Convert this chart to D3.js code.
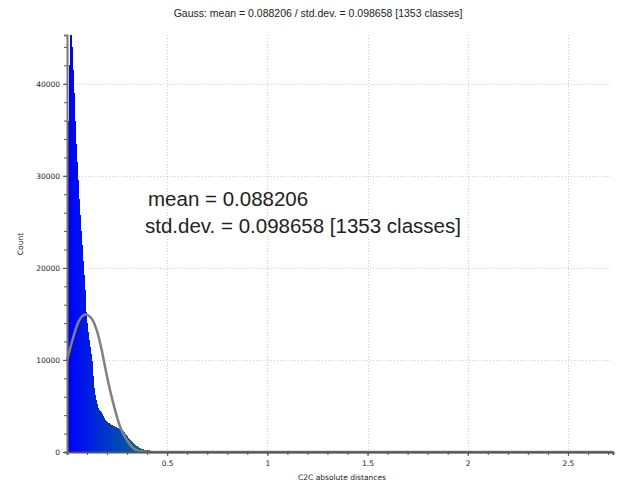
<!DOCTYPE html>
<html>
<head>
<meta charset="utf-8">
<script src="https://cdn.jsdelivr.net/npm/d3@7"></script>
<style>
  body { margin: 0; background: #fff; }
  svg { display: block; }
</style>
</head>
<body>
<div id="chart"></div>
<script>
'use strict';

// histogram: one count per class, classes start at 0 and are binWidth wide
var binWidth = 0.005;
var counts = [
  28000, 36000, 42000, 45300, 44000, 41500, 39000, 36000, 33500, 31500,
  29500, 27500, 25800, 24000, 22500, 20800, 19200, 17600, 15200, 14000,
  13000, 12200, 11400, 10600, 9900, 8300, 7000, 6200, 5700, 5200,
  4800, 4550, 4400, 4300, 4100, 3900, 3700, 3500, 3400, 3300,
  3200, 3100, 3000, 2950, 2900, 2850, 2800, 2750, 2700, 2650,
  2600, 2550, 2500, 2450, 2400, 2300, 2150, 2000, 1850, 1700,
  1550, 1400, 1300, 1200, 1100, 1000, 900, 800, 700, 620,
  550, 480, 420, 370, 330, 290, 260, 240, 220, 200,
  185, 170, 160, 150, 140, 135, 130, 125, 120, 115,
  110, 105, 100, 95, 90, 85, 80, 76, 72, 68,
  64, 60, 57, 54, 51, 48, 45, 42, 40, 38,
  36, 34, 32, 30, 28, 26, 24, 22, 20, 19,
  18, 17, 16, 15, 14
];

// gauss curve
var gaussX = [0.0, 0.0315, 0.0565, 0.092, 0.1235, 0.1485, 0.1735, 0.19, 0.215, 0.24, 0.265, 0.2985, 0.3315, 0.365, 0.40, 0.45, 0.55, 2.725];
var gaussY = [9960, 12490, 14110, 14950, 14480, 13210, 11050, 9240, 6715, 4550, 2740, 1300, 400, 80, 20, 0, 0, 0];

var xTicks = [0.5, 1, 1.5, 2, 2.5];
var yTicks = [0, 10000, 20000, 30000, 40000];

var title = "Gauss: mean = 0.088206 / std.dev. = 0.098658 [1353 classes]";
var xLabel = "C2C absolute distances";
var yLabel = "Count";
var infoLines = ["mean = 0.088206", "std.dev. = 0.098658 [1353 classes]"];

var width = 617, height = 485,
    margin = ({top: 35, right: 4, bottom: 33, left: 67});

var x = d3.scaleLinear()
  .domain([0, 2.725])
  .range([margin.left, width - margin.right]);

var y = d3.scaleLinear()
  .domain([0, 45300])
  .range([height - margin.bottom, margin.top]);

// blue > green > yellow > red colour scale over the distance range
var color = d3.scaleLinear()
  .domain([0, 2.725 / 3, 2.725 * 2 / 3, 2.725])
  .range(["#0000ff", "#00ff00", "#ffff00", "#ff0000"]);

var svg = d3.select("#chart").append("svg")
  .attr("width", width)
  .attr("height", height)
  .attr("viewBox", [0, 0, width, height]);

// grid
var grid = svg.append("g")
  .attr("stroke", "#cfcfcf")
  .attr("stroke-width", 1)
  .attr("stroke-dasharray", "1 2");

grid.selectAll(".vgrid")
  .data(xTicks)
  .join("line")
    .attr("x1", d => Math.round(x(d)) + 0.5)
    .attr("x2", d => Math.round(x(d)) + 0.5)
    .attr("y1", margin.top)
    .attr("y2", height - margin.bottom);

grid.selectAll(".hgrid")
  .data(yTicks.filter(d => d > 0))
  .join("line")
    .attr("x1", margin.left)
    .attr("x2", width - margin.right)
    .attr("y1", d => Math.round(y(d)) + 0.5)
    .attr("y2", d => Math.round(y(d)) + 0.5);

// bars
svg.append("g")
  .attr("shape-rendering", "crispEdges")
  .selectAll("rect")
  .data(counts)
  .join("rect")
    .attr("x", (d, i) => Math.floor(x(i * binWidth)))
    .attr("width", (d, i) => Math.ceil(x((i + 1) * binWidth)) - Math.floor(x(i * binWidth)))
    .attr("y", d => y(d))
    .attr("height", d => y(0) - y(d))
    .attr("fill", (d, i) => color((i + 0.5) * binWidth));

// gauss curve
var line = d3.line()
  .x((d, i) => x(gaussX[i]))
  .y(d => y(d))
  .curve(d3.curveMonotoneX);

svg.append("path")
  .datum(gaussY)
  .attr("fill", "none")
  .attr("stroke", "#808080")
  .attr("stroke-width", 2.5)
  .attr("d", line);

// axes
var xAxis = g => g
  .attr("transform", `translate(0,${height - margin.bottom})`)
  .call(d3.axisBottom(x).tickValues(d3.range(1, 28).map(d => d / 10)).tickSize(3).tickFormat(""))
  .call(g => g.append("g")
      .call(d3.axisBottom(x).tickValues(xTicks).tickSize(4).tickFormat(d3.format("")))
      .call(g => g.select(".domain").remove()))
  .call(g => g.selectAll(".domain").attr("stroke", "#555").attr("stroke-width", 2))
  .call(g => g.selectAll(".tick line").attr("stroke", "#555"))
  .call(g => g.selectAll("text")
      .attr("font-family", "DejaVu Sans, sans-serif")
      .attr("font-size", "7.5px")
      .attr("fill", "#222")
      .attr("dy", "0.9em"));

var yAxis = g => g
  .attr("transform", `translate(${margin.left},0)`)
  .call(d3.axisLeft(y).tickValues(d3.range(0, 45001, 2000)).tickSize(3).tickFormat(""))
  .call(g => g.append("g")
      .call(d3.axisLeft(y).tickValues(yTicks).tickSize(4).tickFormat(d3.format("d")))
      .call(g => g.select(".domain").remove()))
  .call(g => g.selectAll(".domain").attr("stroke", "#777").attr("stroke-width", 2))
  .call(g => g.selectAll(".tick line").attr("stroke", "#555"))
  .call(g => g.selectAll("text")
      .attr("font-family", "DejaVu Sans, sans-serif")
      .attr("font-size", "7.5px")
      .attr("fill", "#222"));

svg.append("g").call(xAxis);
svg.append("g").call(yAxis);

// titles
svg.append("text")
  .attr("x", 318)
  .attr("y", 17)
  .attr("text-anchor", "middle")
  .attr("font-family", "Liberation Sans, Arial, sans-serif")
  .attr("font-size", "10.5px")
  .attr("fill", "#222")
  .text(title);

svg.append("text")
  .attr("x", (margin.left + width - margin.right) / 2 + 2)
  .attr("y", 480)
  .attr("text-anchor", "middle")
  .attr("font-family", "DejaVu Sans, sans-serif")
  .attr("font-size", "7.5px")
  .attr("fill", "#222")
  .text(xLabel);

svg.append("text")
  .attr("transform", "translate(23,244) rotate(-90)")
  .attr("text-anchor", "middle")
  .attr("font-family", "DejaVu Sans, sans-serif")
  .attr("font-size", "7.5px")
  .attr("fill", "#222")
  .text(yLabel);

// info label
svg.append("g")
  .selectAll("text")
  .data(infoLines)
  .join("text")
    .attr("x", (d, i) => i ? 145 : 148)
    .attr("y", (d, i) => i ? 233 : 206)
    .attr("font-family", "Liberation Sans, Arial, sans-serif")
    .attr("font-size", "20.5px")
    .attr("fill", "#222")
    .text(d => d);
</script>
</body>
</html>
